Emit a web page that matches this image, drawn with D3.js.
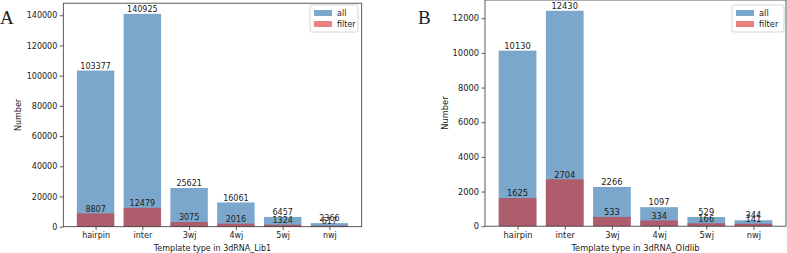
<!DOCTYPE html>
<html>
<head>
<meta charset="utf-8">
<script src="https://cdn.jsdelivr.net/npm/d3@7"></script>
<style>
  body { margin: 0; background: #fff; }
  svg text { font-family: "DejaVu Sans", sans-serif; fill: #222; }
</style>
</head>
<body>
<div id="chart"></div>
<script>
const categories = ["hairpin", "inter", "3wj", "4wj", "5wj", "nwj"];
const allLib1 = [103377, 140925, 25621, 16061, 6457, 2366];
const filterLib1 = [8807, 12479, 3075, 2016, 1324, 617];
const allOld = [10130, 12430, 2266, 1097, 529, 344];
const filterOld = [1625, 2704, 533, 334, 166, 141];
const ticksLib1 = [0, 20000, 40000, 60000, 80000, 100000, 120000, 140000];
const ticksOld = [0, 2000, 4000, 6000, 8000, 10000, 12000];
const legendKeys = ["all", "filter"];

const blue = "#7aa7cb";
const red = "#d62728";
const redAlpha = 0.58;

const svg = d3.select("#chart").append("svg")
  .attr("width", 787)
  .attr("height", 253);

function panel(opt) {
  const g = svg.append("g");
  const n = categories.length;
  const ymax = d3.max(opt.all) * 1.05;

  // matplotlib style band: bar width 0.8, 5% x-margin
  const x = d3.scaleLinear()
    .domain([-0.4 - 0.29, n - 1 + 0.4 + 0.29])
    .range([opt.left, opt.right]);
  const bw = x(0.8) - x(0);

  const y = d3.scaleLinear()
    .domain([0, ymax])
    .range([opt.bottom, opt.top]);

  // bars
  g.selectAll("rect.all")
    .data(opt.all)
    .enter().append("rect")
    .attr("class", "all")
    .attr("x", (d, i) => x(i) - bw / 2)
    .attr("width", bw)
    .attr("y", d => y(d))
    .attr("height", d => y(0) - y(d))
    .attr("fill", blue);

  g.selectAll("rect.filter")
    .data(opt.filter)
    .enter().append("rect")
    .attr("class", "filter")
    .attr("x", (d, i) => x(i) - bw / 2)
    .attr("width", bw)
    .attr("y", d => y(d))
    .attr("height", d => y(0) - y(d))
    .attr("fill", red)
    .attr("fill-opacity", redAlpha);

  // value labels
  [opt.all, opt.filter].forEach(vals => {
    g.selectAll(null)
      .data(vals)
      .enter().append("text")
      .attr("x", (d, i) => x(i))
      .attr("y", d => y(d) - 1.8)
      .attr("text-anchor", "middle")
      .style("font-size", opt.fs + "px")
      .text(d => d);
  });

  // axes
  const yAxis = g.append("g")
    .attr("transform", `translate(${opt.left},0)`)
    .call(d3.axisLeft(y).tickValues(opt.ticks).tickSize(3.5).tickPadding(2.5).tickFormat(d3.format("d")));
  const xAxis = g.append("g")
    .attr("transform", `translate(0,${opt.bottom})`)
    .call(d3.axisBottom(x).tickValues(d3.range(n)).tickSize(3.5).tickPadding(2.5)
      .tickFormat(i => categories[i]));
  [yAxis, xAxis].forEach(a => {
    a.select(".domain").remove();
    a.selectAll("line").attr("stroke", "#333").attr("stroke-width", 0.8);
    a.selectAll("text").style("font-size", opt.fs + "px").attr("fill", "#222")
      .style("font-family", "DejaVu Sans, sans-serif");
  });

  // frame
  g.append("rect")
    .attr("x", opt.left)
    .attr("y", opt.top)
    .attr("width", opt.right - opt.left)
    .attr("height", opt.bottom - opt.top)
    .attr("fill", "none")
    .attr("stroke", "#333")
    .attr("stroke-width", 0.8);

  // axis titles
  g.append("text")
    .attr("x", (opt.left + opt.right) / 2)
    .attr("y", 251)
    .attr("text-anchor", "middle")
    .style("font-size", opt.fs + "px")
    .text(opt.xlabel);

  g.append("text")
    .attr("transform", `translate(${opt.ylabelX},${(opt.top + opt.bottom) / 2}) rotate(-90)`)
    .attr("text-anchor", "middle")
    .style("font-size", opt.fs + "px")
    .text("Number");

  // panel letter
  g.append("text")
    .attr("x", opt.letterX)
    .attr("y", 24)
    .style("font-family", "Liberation Serif, DejaVu Serif, serif")
    .style("font-size", "19px")
    .text(opt.letter);

  // legend
  const lg = g.append("g").attr("transform", `translate(${opt.legX},${opt.legY})`);
  lg.append("rect")
    .attr("width", opt.legW)
    .attr("height", 27)
    .attr("rx", 2)
    .attr("fill", "#fff")
    .attr("stroke", "#ccc")
    .attr("stroke-width", 0.8);
  legendKeys.forEach((k, i) => {
    lg.append("rect")
      .attr("x", 4)
      .attr("y", 5 + i * 11)
      .attr("width", 18)
      .attr("height", 6)
      .attr("fill", i === 0 ? blue : red)
      .attr("fill-opacity", i === 0 ? 1 : redAlpha);
    lg.append("text")
      .attr("x", 27)
      .attr("y", 11 + i * 11)
      .style("font-size", opt.fs + "px")
      .text(k);
  });
}

panel({
  all: allLib1, filter: filterLib1, ticks: ticksLib1,
  left: 63.3, right: 361.7, top: 3.2, bottom: 226.7, fs: 8,
  xlabel: "Template type in 3dRNA_Lib1", ylabelX: 21,
  letter: "A", letterX: 0, legX: 310, legY: 5, legW: 48
});

panel({
  all: allOld, filter: filterOld, ticks: ticksOld,
  left: 485, right: 786, top: 0, bottom: 226.2, fs: 8.3,
  xlabel: "Template type in 3dRNA_Oldlib", ylabelX: 448,
  letter: "B", letterX: 418, legX: 732, legY: 5, legW: 52
});
</script>
</body>
</html>
